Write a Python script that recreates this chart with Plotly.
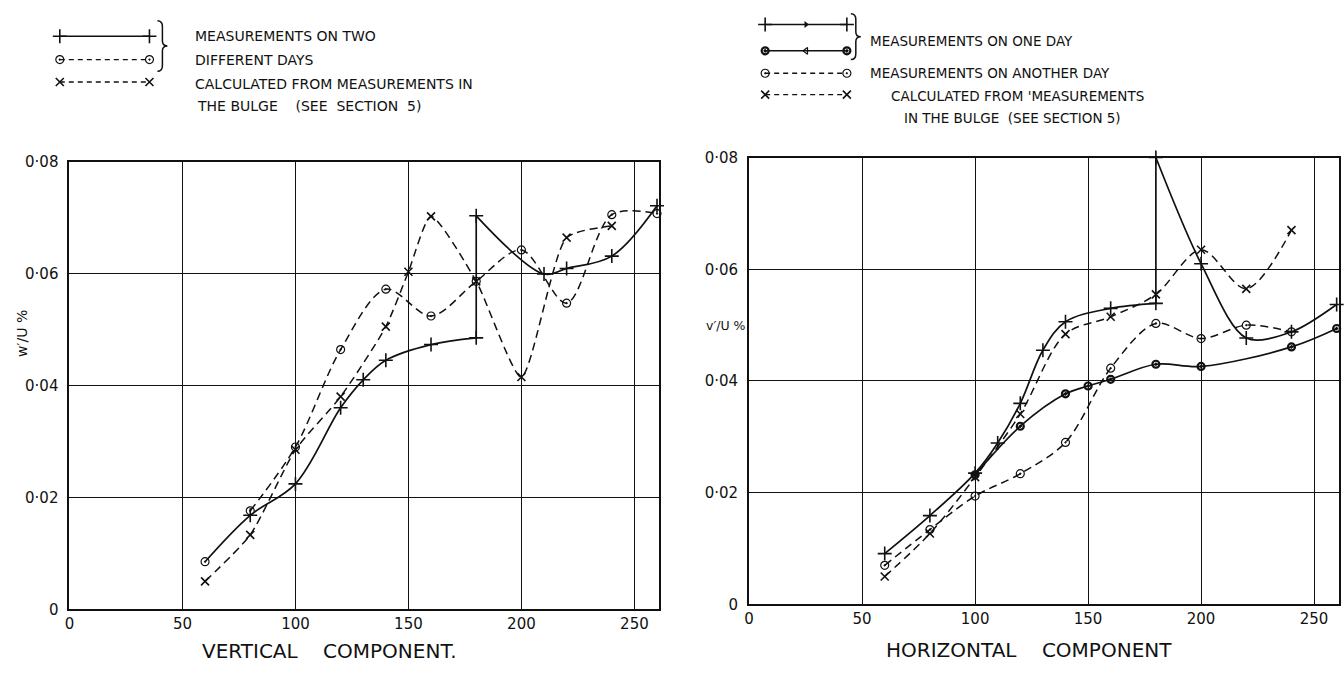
import plotly.graph_objects as go

W, H = 1344, 677
FONT = "DejaVu Sans"
BLACK = "#111111"

# ---------------- DATA : vertical component (left) ----------------
v_plus_a_x = [60, 80, 100, 120, 130, 140, 160, 180]
v_plus_a_y = [0.0085, 0.0168, 0.0224, 0.0360, 0.0410, 0.0445, 0.0473, 0.0485]
v_plus_b_x = [180, 210, 220, 240, 260]
v_plus_b_y = [0.0703, 0.0599, 0.0609, 0.0631, 0.0721]
v_circ_x = [60, 80, 100, 120, 140, 160, 180, 200, 220, 240, 260]
v_circ_y = [0.0085, 0.0176, 0.0290, 0.0464, 0.0572, 0.0524, 0.0586, 0.0642, 0.0547, 0.0705, 0.0707]
v_cross_x = [60, 80, 100, 120, 140, 150, 160, 180, 200, 220, 240]
v_cross_y = [0.0050, 0.0133, 0.0285, 0.0380, 0.0505, 0.0603, 0.0702, 0.0586, 0.0415, 0.0664, 0.0685]

# ---------------- DATA : horizontal component (right) ----------------
h_plus_a_x = [60, 80, 100, 110, 120, 130, 140, 160, 180]
h_plus_a_y = [0.0091, 0.0159, 0.0235, 0.0289, 0.0360, 0.0455, 0.0506, 0.0530, 0.0539]
h_plus_b_x = [180, 200, 220, 240, 260]
h_plus_b_y = [0.0800, 0.0610, 0.0477, 0.0488, 0.0537]
h_dot_x = [100, 120, 140, 150, 160, 180, 200, 240, 260]
h_dot_y = [0.0232, 0.0319, 0.0377, 0.0391, 0.0403, 0.0430, 0.0426, 0.0461, 0.0494]
h_circ_x = [60, 80, 100, 120, 140, 160, 180, 200, 220, 240]
h_circ_y = [0.0070, 0.0134, 0.0194, 0.0234, 0.0290, 0.0423, 0.0503, 0.0476, 0.0500, 0.0488]
h_cross_x = [60, 80, 100, 120, 140, 160, 180, 200, 220, 240]
h_cross_y = [0.0050, 0.0127, 0.0228, 0.0341, 0.0484, 0.0515, 0.0555, 0.0635, 0.0565, 0.0670]

# ---------------- ticks ----------------
x_ticks = [0, 50, 100, 150, 200, 250]
y_ticks = [0, 0.02, 0.04, 0.06, 0.08]
y_ticktext = ["0", "0·02", "0·04", "0·06", "0·08"]
X_MAX, Y_MAX = 261, 0.08

# ---------------- layout geometry (pixels) ----------------
LEFT_BOX = dict(x0=64.7, x1=656.7, top=156.7, bottom=616.7)
RIGHT_BOX = dict(x0=746.9, x1=1338.9, top=152.6, bottom=611.7)

DASH = "8px,5px"
SOLID_W = 1.7
DASH_W = 1.5

M_PLUS = dict(symbol="cross-thin", size=10, color=BLACK, line=dict(width=1.6, color=BLACK))
M_CIRC = dict(symbol="circle-open-dot", size=8, color=BLACK, line=dict(width=1.2, color=BLACK))
M_CROSS = dict(symbol="x-thin", size=8, color=BLACK, line=dict(width=1.6, color=BLACK))
M_DOT = dict(symbol="circle-open-dot", size=7, color=BLACK, line=dict(width=2.2, color=BLACK))

fig = go.Figure()


def curve(x, y, xa, ya, dash=None, width=SOLID_W, shape="spline", smoothing=1.0):
    fig.add_trace(go.Scatter(
        x=x, y=y, xaxis=xa, yaxis=ya, mode="lines",
        line=dict(color=BLACK, width=width, dash=dash or "solid", shape=shape,
                  smoothing=smoothing if shape == "spline" else None),
        hoverinfo="skip", showlegend=False, cliponaxis=False))


def marks(x, y, xa, ya, marker):
    fig.add_trace(go.Scatter(
        x=x, y=y, xaxis=xa, yaxis=ya, mode="markers", marker=marker,
        hoverinfo="skip", showlegend=False, cliponaxis=False))


# ---- left panel ----
curve(v_plus_a_x, v_plus_a_y, "x", "y")
curve(v_plus_b_x, v_plus_b_y, "x", "y")
curve([v_plus_a_x[-1], v_plus_b_x[0]], [v_plus_a_y[-1], v_plus_b_y[0]], "x", "y", shape="linear")
curve(v_circ_x[1:], v_circ_y[1:], "x", "y", dash=DASH, width=DASH_W, smoothing=0.9)
curve(v_cross_x, v_cross_y, "x", "y", dash=DASH, width=DASH_W, smoothing=0.6)
marks(v_plus_a_x[1:], v_plus_a_y[1:], "x", "y", M_PLUS)
marks(v_plus_b_x, v_plus_b_y, "x", "y", M_PLUS)
marks(v_circ_x, v_circ_y, "x", "y", M_CIRC)
marks(v_cross_x, v_cross_y, "x", "y", M_CROSS)

# ---- right panel ----
curve(h_plus_a_x, h_plus_a_y, "x2", "y2")
curve(h_plus_b_x, h_plus_b_y, "x2", "y2", smoothing=0.9)
curve([h_plus_a_x[-1], h_plus_b_x[0]], [h_plus_a_y[-1], h_plus_b_y[0]], "x2", "y2", shape="linear")
curve(h_dot_x, h_dot_y, "x2", "y2")
curve(h_circ_x, h_circ_y, "x2", "y2", dash=DASH, width=DASH_W, smoothing=0.9)
curve(h_cross_x, h_cross_y, "x2", "y2", dash=DASH, width=DASH_W, smoothing=0.9)
marks(h_plus_a_x, h_plus_a_y, "x2", "y2", M_PLUS)
marks(h_plus_b_x, h_plus_b_y, "x2", "y2", M_PLUS)
marks(h_dot_x, h_dot_y, "x2", "y2", M_DOT)
marks(h_circ_x, h_circ_y, "x2", "y2", M_CIRC)
marks(h_cross_x, h_cross_y, "x2", "y2", M_CROSS)

# ---------------- legend keys (pixel overlay axis x3/y3) ----------------
LEG_LEFT = dict(k0=55, k1=145, rows=[28, 52, 75])
LEG_RIGHT = dict(k0=763, k1=845, rows=[16, 43, 66, 88])


def key(x0, x1, y, dash, marker, mid=None):
    fig.add_trace(go.Scatter(
        x=[x0, x1], y=[y, y], xaxis="x3", yaxis="y3", mode="lines+markers",
        line=dict(color=BLACK, width=1.5 if dash is None else 1.3, dash=dash or "solid"),
        marker=marker, hoverinfo="skip", showlegend=False, cliponaxis=False))
    if mid is not None:
        fig.add_trace(go.Scatter(
            x=[(x0 + x1) / 2], y=[y], xaxis="x3", yaxis="y3", mode="markers",
            marker=mid, hoverinfo="skip", showlegend=False, cliponaxis=False))


lk = LEG_LEFT
key(lk["k0"], lk["k1"], lk["rows"][0], None, M_PLUS)
key(lk["k0"], lk["k1"], lk["rows"][1], "5px,4px", M_CIRC)
key(lk["k0"], lk["k1"], lk["rows"][2], "5px,4px", M_CROSS)
rk = LEG_RIGHT
key(rk["k0"], rk["k1"], rk["rows"][0], None, M_PLUS,
    mid=dict(symbol="triangle-right", size=6, color=BLACK))
key(rk["k0"], rk["k1"], rk["rows"][1], None, M_DOT,
    mid=dict(symbol="triangle-left-open", size=6, color=BLACK, line=dict(width=1.2, color=BLACK)))
key(rk["k0"], rk["k1"], rk["rows"][2], "5px,4px", M_CIRC)
key(rk["k0"], rk["k1"], rk["rows"][3], "5px,4px", M_CROSS)


def brace(x, y1, y2):
    ym = (y1 + y2) / 2
    return dict(type="path", xref="x3", yref="y3",
                path=(f"M {x},{y1} Q {x+5},{y1} {x+5},{y1+6} L {x+5},{ym-5} "
                      f"Q {x+5},{ym} {x+10},{ym} Q {x+5},{ym} {x+5},{ym+5} "
                      f"L {x+5},{y2-6} Q {x+5},{y2} {x},{y2}"),
                line=dict(color=BLACK, width=1.5))


shapes = [brace(153, 12, 64), brace(849, 5, 52)]


def label(x, y, text, size=14, anchor="left", angle=0):
    return dict(x=x, y=y, xref="x3", yref="y3", text=text, showarrow=False,
                xanchor=anchor, yanchor="middle", textangle=angle,
                font=dict(family=FONT, size=size, color=BLACK))


annotations = [
    label(189, 28, "MEASUREMENTS ON TWO"),
    label(189, 52, "DIFFERENT DAYS"),
    label(189, 77, "CALCULATED FROM MEASUREMENTS IN"),
    label(191, 100, "THE BULGE    (SEE  SECTION  5)"),
    label(866, 33, "MEASUREMENTS ON ONE DAY", size=13.5),
    label(866, 66, "MEASUREMENTS ON ANOTHER DAY", size=13.5),
    label(887, 89, "CALCULATED FROM 'MEASUREMENTS", size=13.5),
    label(900, 112, "IN THE BULGE  (SEE SECTION 5)", size=13.5),
    label(326, 660, "VERTICAL    COMPONENT.", size=20, anchor="center"),
    label(1028, 658, "HORIZONTAL    COMPONENT", size=20, anchor="center"),
    label(17, 333, "w′/U %", size=14, anchor="center", angle=-90),
    label(724, 325, "v′/U %", size=12.5, anchor="center"),
]


def dom(box):
    return ([box["x0"] / W, box["x1"] / W], [1 - box["bottom"] / H, 1 - box["top"] / H])


lx, ly = dom(LEFT_BOX)
rx, ry = dom(RIGHT_BOX)

common = dict(showgrid=True, gridcolor=BLACK, gridwidth=1.1, showline=True,
              linecolor=BLACK, linewidth=2, mirror=True, zeroline=False, ticks="",
              tickfont=dict(family=FONT, size=15, color=BLACK), fixedrange=True)
xcommon = dict(common, range=[0, X_MAX], tickvals=x_ticks, ticktext=[str(t) for t in x_ticks])
ycommon = dict(common, range=[0, Y_MAX], tickvals=y_ticks, ticktext=y_ticktext,
               ticklabelstandoff=6)

fig.update_layout(
    width=W, height=H, autosize=False,
    margin=dict(l=0, r=0, t=0, b=0),
    paper_bgcolor="white", plot_bgcolor="rgba(0,0,0,0)",
    xaxis=dict(xcommon, domain=lx, anchor="y"),
    yaxis=dict(ycommon, domain=ly, anchor="x"),
    xaxis2=dict(xcommon, domain=rx, anchor="y2"),
    yaxis2=dict(ycommon, domain=ry, anchor="x2"),
    xaxis3=dict(domain=[0, 1], range=[0, W], visible=False, fixedrange=True, anchor="y3"),
    yaxis3=dict(domain=[0, 1], range=[H, 0], visible=False, fixedrange=True, anchor="x3"),
    shapes=shapes,
    annotations=annotations,
    showlegend=False,
)

fig.write_html("out.html")
